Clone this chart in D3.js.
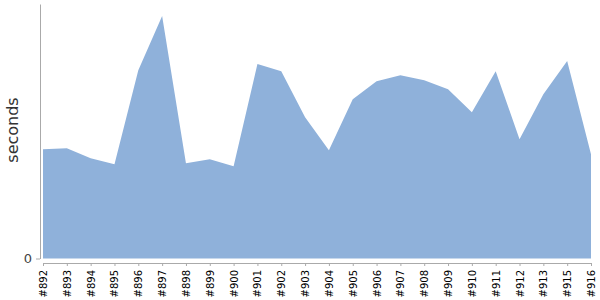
<!DOCTYPE html>
<html>
<head>
<meta charset="utf-8">
<script src="https://cdn.jsdelivr.net/npm/d3@7"></script>
<style>
  body { margin: 0; background: #fff; }
  svg { display: block; }
  svg text { font-family: "DejaVu Sans", sans-serif; }
</style>
</head>
<body>
<svg id="chart" width="600" height="300"></svg>
<script>
// build numbers (note #914 is missing)
const builds = ["#892", "#893", "#894", "#895", "#896", "#897", "#898", "#899", "#900",
    "#901", "#902", "#903", "#904", "#905", "#906", "#907", "#908", "#909", "#910",
    "#911", "#912", "#913", "#915", "#916"];
// duration per build, seconds
const durations = [545, 550, 500, 470, 940, 1210, 475, 495, 460, 970, 935, 705, 540,
    795, 885, 915, 890, 845, 730, 935, 595, 820, 985, 520];
const yTicks = [0];
const yMax = 1270;

const svg = d3.select("#chart");

let x = d3.scalePoint().domain(builds).range([43, 591]);
let y = d3.scaleLinear().domain([0, yMax]).range([258.5, 4]);

let data = builds.map((b, i) => ({ build: b, value: durations[i] }));

// the area
let area = d3.area()
    .x(d => x(d.build))
    .y0(y(0))
    .y1(d => y(d.value));

svg.append("path")
    .datum(data)
    .attr("fill", "#8fb1da")
    .attr("d", area);

// y axis
let yAxis = svg.append("g")
    .attr("transform", "translate(40,0)")
    .call(d3.axisLeft(y).tickValues(yTicks).tickSize(4).tickPadding(4).tickSizeOuter(0));
yAxis.attr("font-family", null);
yAxis.select(".domain").attr("stroke", "#aaa");
yAxis.selectAll(".tick line").attr("stroke", "#aaa");
yAxis.selectAll(".tick text").attr("fill", "#444").attr("font-size", 13);

// x axis
let xAxis = svg.append("g")
    .attr("transform", "translate(0,263)")
    .call(d3.axisBottom(x).tickSize(3).tickSizeOuter(0));
xAxis.attr("font-family", null);
xAxis.select(".domain").attr("stroke", "#aaa");
xAxis.selectAll(".tick line").attr("stroke", "#aaa");
xAxis.selectAll(".tick text")
    .attr("fill", "#000")
    .attr("font-size", 10)
    .attr("transform", "rotate(-90)")
    .attr("text-anchor", "end")
    .attr("x", -7)
    .attr("y", 0)
    .attr("dy", "0.35em");

// y label
svg.append("text")
    .attr("transform", "translate(18,130) rotate(-90)")
    .attr("text-anchor", "middle")
    .attr("fill", "#333")
    .attr("font-size", 16)
    .text("seconds");
</script>
</body>
</html>
